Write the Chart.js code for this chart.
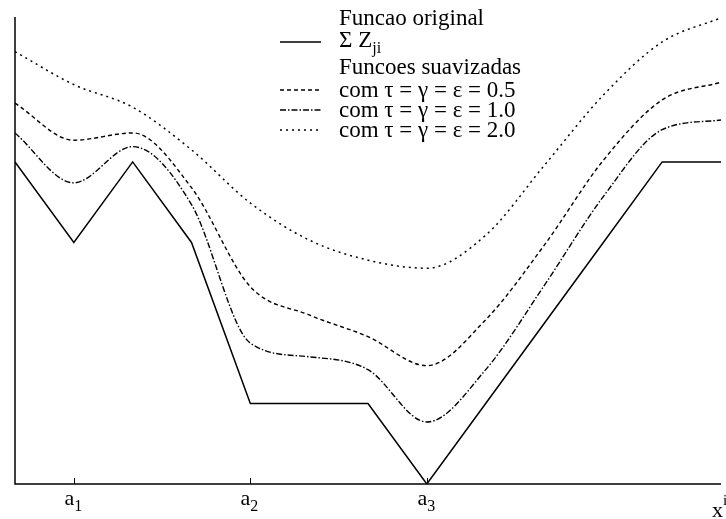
<!DOCTYPE html>
<html>
<head>
<meta charset="utf-8">
<script src="https://cdn.jsdelivr.net/npm/chart.js@4"></script>
<style>
  html, body { margin: 0; padding: 0; background: #fff; }
  #wrap { width: 726px; height: 519px; }
</style>
</head>
<body>
<div id="wrap"><canvas id="grafico" width="726" height="519"></canvas></div>
<script>
// dados
const xs = [0, 1, 2, 3, 4, 5, 6, 7, 8, 9, 10, 11, 12];
const original = [4, 3, 4, 3, 1, 1, 1, 0, 1, 2, 3, 4, 4];
const suave05 = [4.73, 4.27, 4.36, 3.68, 2.45, 2.10, 1.83, 1.47, 2.04, 2.97, 4.02, 4.77, 4.99];
const suave10 = [4.36, 3.74, 4.19, 3.47, 1.75, 1.58, 1.42, 0.77, 1.42, 2.47, 3.57, 4.40, 4.52];
const suave20 = [5.37, 4.96, 4.68, 4.15, 3.49, 3.03, 2.78, 2.68, 3.09, 3.96, 4.83, 5.49, 5.79];
const tickPos = [1, 4, 7];
const tickNames = ["a", "a", "a"];
const tickSubs = ["1", "2", "3"];

const pontos = arr => xs.map((x, i) => ({ x: x, y: arr[i] }));
const serif = '"Liberation Serif", "Times New Roman", serif';

const eixos = {
  id: "eixos",
  afterDraw(chart) {
    const ctx = chart.ctx;
    const a = chart.chartArea;
    const sx = chart.scales.x;
    ctx.save();
    ctx.strokeStyle = "#000";
    ctx.lineWidth = 1.5;
    ctx.beginPath();
    ctx.moveTo(a.left, a.top);
    ctx.lineTo(a.left, a.bottom);
    ctx.lineTo(a.right, a.bottom);
    ctx.stroke();
    ctx.lineWidth = 1;
    ctx.fillStyle = "#000";
    tickPos.forEach((v, i) => {
      const px = Math.round(sx.getPixelForValue(v)) + 0.5;
      ctx.beginPath();
      ctx.moveTo(px, a.bottom);
      ctx.lineTo(px, a.bottom - 6);
      ctx.stroke();
      ctx.font = "22px " + serif;
      ctx.textAlign = "left";
      ctx.textBaseline = "alphabetic";
      const w = ctx.measureText(tickNames[i]).width;
      ctx.fillText(tickNames[i], px - 10, a.bottom + 21);
      ctx.font = "16px " + serif;
      ctx.fillText(tickSubs[i], px - 10 + w, a.bottom + 27);
    });
    // rotulo do eixo x
    ctx.font = "22px " + serif;
    ctx.fillText("x", a.right - 9, a.bottom + 33);
    ctx.font = "15px " + serif;
    ctx.fillText("i", a.right + 2, a.bottom + 21);
    ctx.restore();
  }
};

const legenda = {
  id: "legenda",
  afterDraw(chart) {
    const ctx = chart.ctx;
    ctx.save();
    ctx.fillStyle = "#000";
    ctx.strokeStyle = "#000";
    ctx.textBaseline = "alphabetic";
    const tx = 339, x0 = 280, x1 = 321;
    const f = "23px " + serif;
    ctx.font = f;
    ctx.fillText("Funcao original", tx, 25);
    const ds = chart.data.datasets;
    const linha = (y, d) => {
      ctx.lineWidth = d.borderWidth;
      ctx.setLineDash(d.borderDash || []);
      ctx.beginPath();
      ctx.moveTo(x0, y);
      ctx.lineTo(x1, y);
      ctx.stroke();
      ctx.setLineDash([]);
    };
    linha(42, ds[0]);
    ctx.font = f;
    ctx.fillText("\u03A3 Z", tx, 47);
    const w = ctx.measureText("\u03A3 Z").width;
    ctx.font = "16px " + serif;
    ctx.fillText("ji", tx + w, 53);
    ctx.font = f;
    ctx.fillText("Funcoes suavizadas", tx, 74);
    linha(90, ds[1]);
    ctx.fillText("com \u03C4 = \u03B3 = \u03B5 = 0.5", tx, 97);
    linha(110, ds[2]);
    ctx.fillText("com \u03C4 = \u03B3 = \u03B5 = 1.0", tx, 117);
    linha(130, ds[3]);
    ctx.fillText("com \u03C4 = \u03B3 = \u03B5 = 2.0", tx, 137);
    ctx.restore();
  }
};

const grafico = new Chart("grafico", {
  type: "line",
  data: {
    datasets: [
      { label: "original", data: pontos(original), borderColor: "#000", borderWidth: 1.5, tension: 0, pointRadius: 0 },
      { label: "0.5", data: pontos(suave05), borderColor: "#000", borderWidth: 1.4, borderDash: [4, 3], cubicInterpolationMode: "monotone", pointRadius: 0 },
      { label: "1.0", data: pontos(suave10), borderColor: "#000", borderWidth: 1.4, borderDash: [6, 2, 1.5, 2], cubicInterpolationMode: "monotone", pointRadius: 0 },
      { label: "2.0", data: pontos(suave20), borderColor: "#000", borderWidth: 1.5, borderDash: [2, 4], cubicInterpolationMode: "monotone", pointRadius: 0 }
    ]
  },
  options: {
    responsive: false,
    animation: false,
    layout: { padding: { left: 15, top: 17, right: 5, bottom: 35 } },
    scales: {
      x: { type: "linear", min: 0, max: 12, display: false },
      y: { type: "linear", min: 0, max: 5.8, display: false }
    },
    plugins: { legend: { display: false }, tooltip: { enabled: false } }
  },
  plugins: [eixos, legenda]
});
</script>
</body>
</html>
